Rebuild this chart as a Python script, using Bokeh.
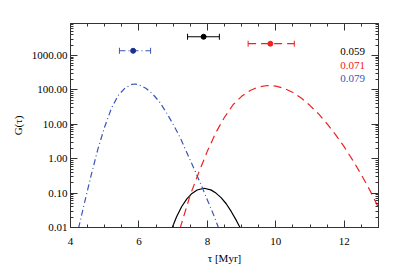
import math
from bokeh.plotting import figure
from bokeh.models import (Range1d, LinearAxis, LogAxis, FixedTicker, LogTicker,
                          PrintfTickFormatter, CustomJSTickFormatter, Label)
from bokeh.embed import file_html
from bokeh.resources import INLINE

# ---------------- data ----------------
blue_tau = [4.235, 4.4, 4.6, 4.8, 5.0, 5.2, 5.4, 5.6, 5.8, 5.9, 6.0, 6.2, 6.4,
            6.6, 6.8, 7.0, 7.2, 7.4, 7.6, 7.8, 8.0, 8.2, 8.33]
blue_g = [0.0095, 0.048, 0.32, 1.9, 8.5, 30, 70, 115, 145, 148, 141, 112, 76,
          45, 22, 10.0, 4.2, 1.5, 0.54, 0.19, 0.063, 0.021, 0.0095]

red_tau = [7.2, 7.5, 7.75, 8.0, 8.25, 8.5, 8.75, 9.0, 9.25, 9.5, 9.75, 10.0,
           10.25, 10.5, 10.75, 11.0, 11.25, 11.5, 11.75, 12.0, 12.25, 12.5,
           12.75, 13.0]
red_g = [0.0093, 0.089, 0.40, 1.66, 5.8, 16, 37, 65, 96, 122, 134, 129,
         110, 84, 57, 35, 20, 10.2, 4.9, 2.2, 0.89, 0.34, 0.12, 0.038]

black_tau = [6.965, 7.1, 7.25, 7.4, 7.55, 7.7, 7.9, 8.1, 8.25, 8.4, 8.55,
             8.7, 8.85, 8.965]
black_g = [0.0095, 0.0204, 0.0407, 0.0676, 0.0977, 0.123, 0.138, 0.124,
           0.100, 0.074, 0.049, 0.0288, 0.0158, 0.0095]

# error-bar points at the top: centre, lower, upper, height
pt_labels = ["0.059", "0.071", "0.079"]
pt_center = [7.89, 9.84, 5.83]
pt_lower = [7.42, 9.19, 5.43]
pt_upper = [8.35, 10.54, 6.34]
pt_g = [3500, 2200, 1370]

x_ticks = [4, 6, 8, 10, 12]
x_minor = [4.5, 5, 5.5, 6.5, 7, 7.5, 8.5, 9, 9.5, 10.5, 11, 11.5, 12.5]

# ---------------- styles ----------------
colors = ["black", "#ee2222", "#3a55b5"]
dot_colors = ["black", "#ee2222", "#1a2f8f"]
dashes = ["solid", "8 5", "6 3 1 3"]
SERIF = "Liberation Serif"

p = figure(frame_width=308, frame_height=204, y_axis_type="log",
           x_range=Range1d(4, 13), y_range=Range1d(0.01, 8500),
           output_backend="svg", toolbar_location=None,
           min_border_left=70, min_border_right=15,
           min_border_top=23, min_border_bottom=40)
p.grid.visible = False
p.outline_line_color = "#333333"
p.background_fill_color = "white"
p.border_fill_color = "white"

# curves
p.line(black_tau, black_g, line_color=colors[0], line_width=1.2)
p.line(red_tau, red_g, line_color=colors[1], line_width=1.2, line_dash=dashes[1])
p.line(blue_tau, blue_g, line_color=colors[2], line_width=1.2, line_dash=dashes[2])

# error bars
for i in range(3):
    p.segment(x0=[pt_lower[i]], y0=[pt_g[i]], x1=[pt_upper[i]], y1=[pt_g[i]],
              line_color=colors[i], line_width=1.2, line_dash=dashes[i])
    p.scatter(x=[pt_lower[i], pt_upper[i]], y=[pt_g[i], pt_g[i]], marker="dash",
              angle=math.pi / 2, size=6, line_color=colors[i], line_width=1)
    p.scatter(x=[pt_center[i]], y=[pt_g[i]], marker="circle", size=5,
              fill_color=dot_colors[i], line_color=dot_colors[i])

# legend-like labels
label_g = [1334, 513, 214]
for i in range(3):
    p.add_layout(Label(x=11.88, y=label_g[i], text=pt_labels[i],
                       text_color=colors[i], text_font=SERIF,
                       text_font_size="11px", text_baseline="middle"))

def style_axis(ax, show_labels=True):
    ax.axis_line_color = "#333333"
    ax.major_tick_line_color = "#333333"
    ax.minor_tick_line_color = "#333333"
    ax.major_tick_in = 7
    ax.major_tick_out = 0
    ax.minor_tick_in = 3
    ax.minor_tick_out = 0
    ax.major_label_text_font = SERIF
    ax.major_label_text_color = "black"
    ax.axis_label_text_font = SERIF
    ax.axis_label_text_font_style = "normal"
    ax.axis_label_text_color = "black"
    ax.major_label_text_font_size = "11px"
    if show_labels:
        ax.major_label_standoff = 4
    else:
        ax.formatter = CustomJSTickFormatter(code="return ''")
        ax.major_label_text_color = None
        ax.major_label_standoff = 0

xt = FixedTicker(ticks=x_ticks, minor_ticks=x_minor)
p.xaxis.ticker = xt
p.xaxis.axis_label = "τ [Myr]"
p.xaxis.axis_label_text_font_size = "11px"
style_axis(p.xaxis[0])
p.xaxis.major_label_standoff = 10
p.xaxis.axis_label_standoff = 4

p.yaxis.ticker = LogTicker(num_minor_ticks=10)
p.yaxis.formatter = PrintfTickFormatter(format="%.2f")
p.yaxis.axis_label = "G(τ)"
p.yaxis.axis_label_text_font_size = "11px"
style_axis(p.yaxis[0])
p.yaxis.major_label_standoff = 3
p.yaxis.axis_label_standoff = 5

top = LinearAxis(ticker=FixedTicker(ticks=x_ticks, minor_ticks=x_minor))
style_axis(top, show_labels=False)
p.add_layout(top, "above")

right = LogAxis(ticker=LogTicker(num_minor_ticks=10))
style_axis(right, show_labels=False)
p.add_layout(right, "right")

open("out.html", "w").write(file_html(p, INLINE))
